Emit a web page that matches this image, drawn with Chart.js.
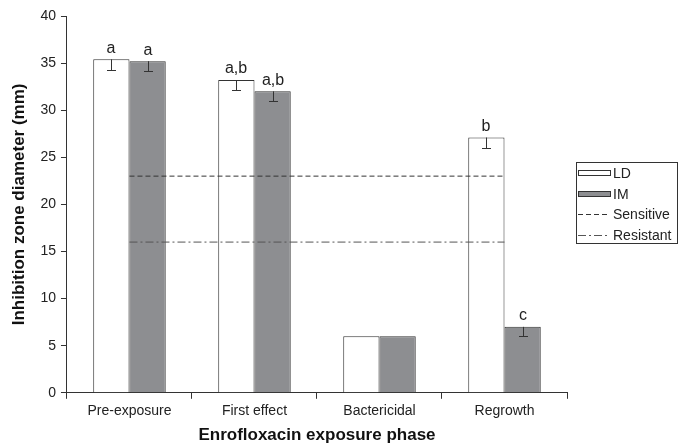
<!DOCTYPE html>
<html>
<head>
<meta charset="utf-8">
<script src="https://cdn.jsdelivr.net/npm/chart.js@4.4.1/dist/chart.umd.min.js"></script>
<style>
  html, body { margin: 0; padding: 0; background: #fff; }
  #wrap { width: 686px; height: 446px; }
</style>
</head>
<body>
<div id="wrap"><canvas id="zoneChart" width="686" height="446"></canvas></div>
<script>
const phases = ['Pre-exposure', 'First effect', 'Bactericidal', 'Regrowth'];
const ldValues = [35.4, 33.2, 6.0, 27.1];
const imValues = [35.2, 32.0, 6.0, 7.0];
const ldErr = [1.1, 1.1, 0, 1.1];
const imErr = [1.0, 1.0, 0, 1.0];
const ldLetters = ['a', 'a,b', '', 'b'];
const imLetters = ['a', 'a,b', '', 'c'];
const sensitiveBreakpoint = 23;
const resistantBreakpoint = 16;
const yTicks = [0, 5, 10, 15, 20, 25, 30, 35, 40];

const textColor = '#222';
const axisColor = '#333';
const fontFamily = '"Liberation Sans", Arial, sans-serif';

// error whiskers (lower half only) and significance letters above each bar
const barExtras = {
    id: 'barExtras',
    afterDatasetsDraw(chart) {
        const ctx = chart.ctx;
        const y = chart.scales.y;
        const sets = [[0, ldValues, ldErr, ldLetters], [1, imValues, imErr, imLetters]];
        ctx.save();
        sets.forEach(([idx, vals, errs, letters]) => {
            const meta = chart.getDatasetMeta(idx);
            meta.data.forEach((bar, i) => {
                const x = Math.round(bar.x);
                const top = y.getPixelForValue(vals[i]);
                if (errs[i] > 0) {
                    const low = Math.round(y.getPixelForValue(vals[i] - errs[i])) + 0.5;
                    ctx.strokeStyle = axisColor;
                    ctx.lineWidth = 1;
                    ctx.beginPath();
                    ctx.moveTo(x + 0.5, top);
                    ctx.lineTo(x + 0.5, low);
                    ctx.moveTo(x - 4, low);
                    ctx.lineTo(x + 5, low);
                    ctx.stroke();
                }
                if (letters[i]) {
                    ctx.fillStyle = textColor;
                    ctx.font = '16px ' + fontFamily;
                    ctx.textAlign = 'center';
                    ctx.textBaseline = 'bottom';
                    ctx.fillText(letters[i], x, top - 3);
                }
            });
        });
        ctx.restore();
    }
};

// framed legend in the right margin, one row per dataset
const sideLegend = {
    id: 'sideLegend',
    afterDraw(chart) {
        const ctx = chart.ctx;
        const area = chart.chartArea;
        const boxX = area.right + 9, boxW = 101, rowH = 20.5;
        const boxH = 81;
        const boxY = Math.round((area.top + area.bottom) / 2 - boxH / 2) - 2;
        ctx.save();
        ctx.strokeStyle = axisColor;
        ctx.lineWidth = 1;
        ctx.strokeRect(boxX + 0.5, boxY + 0.5, boxW, boxH);
        chart.data.datasets.forEach((ds, i) => {
            const cy = Math.round(boxY + 11 + i * rowH);
            const sx = boxX + 2, sw = 32;
            if (ds.type === 'line') {
                ctx.strokeStyle = ds.borderColor;
                ctx.setLineDash(ds.borderDash);
                ctx.beginPath();
                ctx.moveTo(sx, cy + 0.5);
                ctx.lineTo(sx + sw, cy + 0.5);
                ctx.stroke();
                ctx.setLineDash([]);
            } else {
                ctx.fillStyle = ds.backgroundColor;
                ctx.fillRect(sx + 0.5, cy - 2.5, sw, 5);
                ctx.strokeStyle = ds.borderColor;
                ctx.strokeRect(sx + 0.5, cy - 2.5, sw, 5);
            }
            ctx.fillStyle = textColor;
            ctx.font = '14px ' + fontFamily;
            ctx.textAlign = 'left';
            ctx.textBaseline = 'middle';
            ctx.fillText(ds.label, sx + sw + 3, cy + 1);
        });
        ctx.restore();
    }
};

const ctx = document.getElementById('zoneChart').getContext('2d');
new Chart(ctx, {
    type: 'bar',
    data: {
        labels: phases,
        datasets: [
            {
                label: 'LD',
                data: ldValues,
                backgroundColor: '#ffffff',
                borderColor: axisColor,
                borderWidth: 1,
                categoryPercentage: 0.58,
                barPercentage: 1.0,
                order: 2
            },
            {
                label: 'IM',
                data: imValues,
                backgroundColor: '#8d8e91',
                borderColor: axisColor,
                borderWidth: 1,
                categoryPercentage: 0.58,
                barPercentage: 1.0,
                order: 2
            },
            {
                type: 'line',
                label: 'Sensitive',
                data: phases.map(() => sensitiveBreakpoint),
                borderColor: '#333',
                borderWidth: 1,
                borderDash: [5, 3],
                pointRadius: 0,
                fill: false,
                order: 1
            },
            {
                type: 'line',
                label: 'Resistant',
                data: phases.map(() => resistantBreakpoint),
                borderColor: '#555',
                borderWidth: 1,
                borderDash: [8, 3, 2, 3],
                pointRadius: 0,
                fill: false,
                order: 1
            }
        ]
    },
    options: {
        responsive: false,
        animation: false,
        layout: { padding: { top: 16, right: 119, left: 9, bottom: 0 } },
        scales: {
            x: {
                grid: { display: true, drawOnChartArea: false, offset: true, color: axisColor, tickLength: 6 },
                border: { color: axisColor, width: 1 },
                ticks: { color: textColor, font: { family: fontFamily, size: 14 }, padding: 4 },
                title: {
                    display: true,
                    text: 'Enrofloxacin exposure phase',
                    color: '#111',
                    font: { family: fontFamily, size: 17, weight: 'bold' },
                    padding: { top: 2, bottom: 0 }
                }
            },
            y: {
                min: 0,
                max: 40,
                afterBuildTicks: axis => { axis.ticks = yTicks.map(v => ({ value: v })); },
                grid: { display: true, drawOnChartArea: false, color: axisColor, tickLength: 6 },
                border: { color: axisColor, width: 1 },
                ticks: { color: textColor, font: { family: fontFamily, size: 14 }, padding: 5 },
                title: {
                    display: true,
                    text: 'Inhibition zone diameter (mm)',
                    color: '#111',
                    font: { family: fontFamily, size: 17, weight: 'bold' },
                    padding: { top: 0, bottom: 6 }
                }
            }
        },
        plugins: {
            tooltip: { enabled: false },
            legend: { display: false }
        }
    },
    plugins: [barExtras, sideLegend]
});
</script>
</body>
</html>
